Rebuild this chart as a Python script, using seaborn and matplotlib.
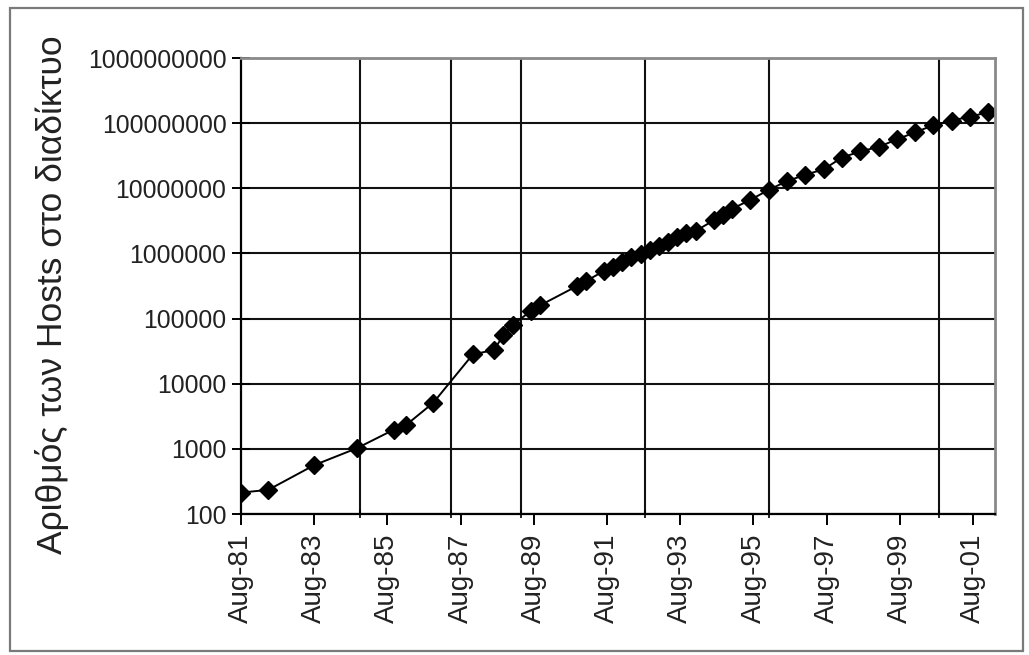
import matplotlib
matplotlib.use("Agg")
import matplotlib.pyplot as plt
import matplotlib.dates as mdates
from matplotlib.ticker import FixedLocator, FixedFormatter, NullLocator
from matplotlib.patches import Rectangle
import pandas as pd
import seaborn as sns

# ---------------- data ----------------
survey_dates = ["1981-08", "1982-05", "1983-08", "1984-10", "1985-10", "1986-02",
                "1986-11", "1987-12", "1988-07", "1988-10", "1989-01", "1989-07",
                "1989-10", "1990-10", "1991-01", "1991-07", "1991-10", "1992-01",
                "1992-04", "1992-07", "1992-10", "1993-01", "1993-04", "1993-07",
                "1993-10", "1994-01", "1994-07", "1994-10", "1995-01", "1995-07",
                "1996-01", "1996-07", "1997-01", "1997-07", "1998-01", "1998-07",
                "1999-01", "1999-07", "2000-01", "2000-07", "2001-01", "2001-07",
                "2002-01"]
host_counts = [213, 235, 562, 1024, 1961, 2308,
               5089, 28174, 33000, 56000, 80000, 130000,
               159000, 313000, 376000, 535000, 617000, 727000,
               890000, 992000, 1136000, 1313000, 1486000, 1776000,
               2056000, 2217000, 3212000, 3864000, 4852000, 6642000,
               9472000, 12881000, 16146000, 19540000, 29670000, 36739000,
               43230000, 56218000, 72398092, 93047785, 109574429, 125888197,
               147344723]

x_tick_dates = ["1981-08-01", "1983-08-01", "1985-08-01", "1987-08-01", "1989-08-01",
                "1991-08-01", "1993-08-01", "1995-08-01", "1997-08-01", "1999-08-01",
                "2001-08-01"]
x_tick_labels = ["Aug-81", "Aug-83", "Aug-85", "Aug-87", "Aug-89", "Aug-91",
                 "Aug-93", "Aug-95", "Aug-97", "Aug-99", "Aug-01"]
x_grid_dates = ["1984-10-31", "1987-04-27", "1989-03-25", "1992-08-14",
                "1996-01-04", "2000-08-25"]
x_limits = ["1981-08-01", "2002-03-07"]

y_tick_values = [100, 1000, 10000, 100000, 1000000, 10000000, 100000000, 1000000000]
y_tick_labels = ["100", "1000", "10000", "100000", "1000000", "10000000",
                 "100000000", "1000000000"]
y_label = "Αριθμός των Hosts στο διαδίκτυο"

# ---------------- style ----------------
sns.set_style("white")
plt.rcParams['font.family'] = ['Liberation Sans', 'DejaVu Sans']

df = pd.DataFrame({"date": pd.to_datetime(survey_dates), "hosts": host_counts})

W, H = 1029, 655
fig = plt.figure(figsize=(W / 100, H / 100), dpi=100)
fig.patch.set_facecolor("white")

# outer frame
fig.patches.append(Rectangle((10 / W, 1 - 651 / H), (1023 - 10) / W, (651 - 8) / H,
                             transform=fig.transFigure, fill=False,
                             edgecolor="#7a7a7a", linewidth=1.6))

ax = fig.add_axes([241 / W, 1 - 514 / H, (995 - 241) / W, (514 - 58) / H])

sns.lineplot(data=df, x="date", y="hosts", ax=ax, color="black", linewidth=1.4,
             marker="D", markersize=9, markeredgecolor="black",
             markerfacecolor="black", markeredgewidth=1.0)

ax.set_yscale("log")
ax.set_ylim(y_tick_values[0], y_tick_values[-1])
ax.yaxis.set_major_locator(FixedLocator(y_tick_values))
ax.yaxis.set_major_formatter(FixedFormatter(y_tick_labels))
ax.yaxis.set_minor_locator(NullLocator())

xt = mdates.date2num(pd.to_datetime(x_tick_dates))
xg = mdates.date2num(pd.to_datetime(x_grid_dates))
xl = mdates.date2num(pd.to_datetime(x_limits))
ax.set_xlim(xl[0], xl[1])
ax.xaxis.set_major_locator(FixedLocator(xt))
ax.xaxis.set_major_formatter(FixedFormatter(x_tick_labels))
ax.xaxis.set_minor_locator(FixedLocator(xg))

# grid
ax.set_axisbelow(True)
ax.grid(False)
ax.grid(True, which="major", axis="y", color="#111111", linewidth=1.5)
ax.grid(True, which="minor", axis="x", color="#111111", linewidth=1.5)

for side in ["left", "bottom"]:
    ax.spines[side].set_color("black")
    ax.spines[side].set_linewidth(1.6)
for side in ["top", "right"]:
    ax.spines[side].set_color("#8a8a8a")
    ax.spines[side].set_linewidth(2.0)

ax.tick_params(axis="y", which="major", direction="inout", length=13, width=1.4,
               color="black", labelsize=17.8, pad=4, left=True)
ax.tick_params(axis="x", which="major", direction="out", length=8, width=1.4,
               color="black", labelsize=20, pad=6, bottom=True,
               labelrotation=90)
ax.tick_params(axis="x", which="minor", direction="inout", length=6, width=1.2,
               color="black", bottom=True)
for lbl in ax.get_yticklabels() + ax.get_xticklabels():
    lbl.set_color("#222222")

ax.set_xlabel("")
ax.set_ylabel(y_label, fontsize=25.5, color="#222222")
ax.yaxis.set_label_coords(-0.228, 0.48)

fig.savefig("out.png", dpi=100, facecolor="white")
